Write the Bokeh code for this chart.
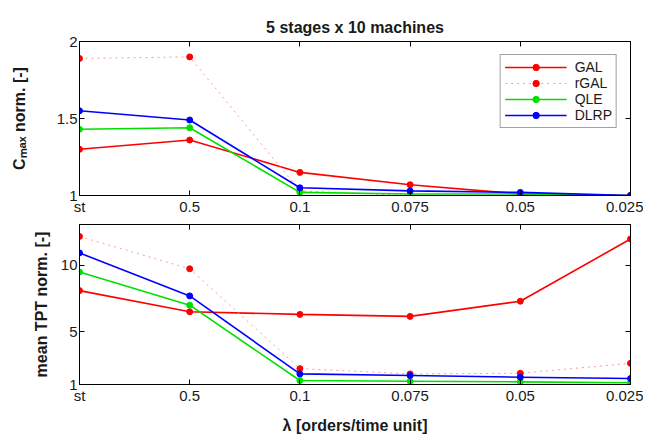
from bokeh.plotting import figure
from bokeh.layouts import column
from bokeh.models import FixedTicker, LinearAxis, Range1d
from bokeh.embed import file_html
from bokeh.resources import INLINE

# ---- data ----
lambdas = ["st", "0.5", "0.1", "0.075", "0.05", "0.025"]
xs = list(range(len(lambdas)))

cmax_gal = [1.30, 1.36, 1.15, 1.07, 1.01, 1.00]
cmax_rgal = [1.89, 1.90, 1.03, 1.00, 1.00, 1.00]
cmax_qle = [1.43, 1.44, 1.02, 1.01, 1.01, 1.00]
cmax_dlrp = [1.55, 1.49, 1.05, 1.03, 1.02, 1.00]

tpt_gal = [8.1, 6.5, 6.3, 6.15, 7.3, 12.0]
tpt_rgal = [12.2, 9.75, 2.2, 1.8, 1.85, 2.6]
tpt_qle = [9.5, 7.0, 1.3, 1.25, 1.2, 1.13]
tpt_dlrp = [10.95, 7.7, 1.8, 1.68, 1.55, 1.45]

series_names = ["GAL", "rGAL", "QLE", "DLRP"]
line_colors = ["#ff0000", "#ff9a9a", "#00e000", "#0000ff"]
marker_colors = ["#ff0000", "#ff0000", "#00e000", "#0000ff"]
line_dashes = ["solid", "dotted", "solid", "solid"]
line_widths = [1.6, 1.0, 1.6, 1.6]

FONT = "Liberation Sans"
TXT = "#1a1a1a"


def style_axis(ax, show_labels=True):
    ax.axis_line_color = "black"
    ax.major_tick_line_color = "black"
    ax.minor_tick_line_color = None
    ax.major_tick_in = 5
    ax.major_tick_out = 0
    ax.major_label_text_font = FONT
    ax.major_label_text_font_size = "15px" if show_labels else "1px"
    ax.major_label_text_color = TXT
    ax.major_label_standoff = 2 if show_labels else 0
    ax.axis_label_text_font = FONT
    ax.axis_label_text_font_style = "bold"
    ax.axis_label_text_font_size = "16px"
    ax.axis_label_text_color = TXT


def make_fig(ymin, ymax, yticks, ylabels, frame_h, top_border, bottom_border, title=None):
    p = figure(
        frame_width=551, frame_height=frame_h,
        x_range=Range1d(0, 5), y_range=Range1d(ymin, ymax),
        output_backend="svg", toolbar_location=None,
        x_axis_location=None, y_axis_location=None,
        min_border_left=79, min_border_right=13,
        min_border_top=top_border, min_border_bottom=bottom_border,
        title=title,
    )
    p.background_fill_color = "white"
    p.border_fill_color = "white"
    p.outline_line_color = "black"
    p.xgrid.visible = False
    p.ygrid.visible = False

    bottom = LinearAxis(ticker=FixedTicker(ticks=xs),
                        major_label_overrides={i: s for i, s in zip(xs, lambdas)})
    left = LinearAxis(ticker=FixedTicker(ticks=yticks),
                      major_label_overrides={t: s for t, s in zip(yticks, ylabels)})
    top = LinearAxis(ticker=FixedTicker(ticks=xs),
                     major_label_overrides={i: "" for i in xs})
    right = LinearAxis(ticker=FixedTicker(ticks=yticks),
                       major_label_overrides={t: "" for t in yticks})
    style_axis(bottom)
    style_axis(left)
    style_axis(top, False)
    style_axis(right, False)
    p.add_layout(bottom, "below")
    p.add_layout(left, "left")
    p.add_layout(top, "above")
    p.add_layout(right, "right")
    return p, bottom, left


p1, b1, l1 = make_fig(1, 2, [1, 1.5, 2], ["1", "1.5", "2"], 154, 41, 22,
                      title="5 stages x 10 machines")
p1.title.align = "center"
p1.title.vertical_align = "middle"
p1.title.text_font = FONT
p1.title.text_font_size = "16px"
p1.title.text_font_style = "bold"
p1.title.text_color = TXT
l1.axis_label = "Cₘₐₓ norm. [-]"
l1.axis_label_standoff = 26

for name, ys, lc, mc, dash, lw in zip(series_names, [cmax_gal, cmax_rgal, cmax_qle, cmax_dlrp],
                                      line_colors, marker_colors, line_dashes, line_widths):
    p1.line(xs, ys, line_color=lc, line_width=lw, line_dash=dash, legend_label=name)
    p1.scatter(xs, ys, size=6, fill_color=mc, line_color=mc, legend_label=name)

lg = p1.legend[0]
lg.location = "top_right"
lg.margin = 13
lg.padding = 4
lg.spacing = 0
lg.glyph_width = 62
lg.glyph_height = 16
lg.label_height = 16
lg.label_text_font = FONT
lg.label_text_font_size = "14px"
lg.label_text_color = TXT
lg.label_standoff = 8
lg.border_line_color = "#444444"
lg.border_line_width = 1
lg.background_fill_alpha = 1

p2, b2, l2 = make_fig(1, 13.1, [1, 5, 10], ["1", "5", "10"], 160, 7, 47)
b2.axis_label = "λ [orders/time unit]"
b2.axis_label_standoff = 10
l2.axis_label = "mean TPT norm. [-]"
l2.axis_label_standoff = 8

for name, ys, lc, mc, dash, lw in zip(series_names, [tpt_gal, tpt_rgal, tpt_qle, tpt_dlrp],
                                      line_colors, marker_colors, line_dashes, line_widths):
    p2.line(xs, ys, line_color=lc, line_width=lw, line_dash=dash)
    p2.scatter(xs, ys, size=6, fill_color=mc, line_color=mc)

layout = column(p1, p2, spacing=0)
open("out.html", "w").write(file_html(layout, INLINE))
